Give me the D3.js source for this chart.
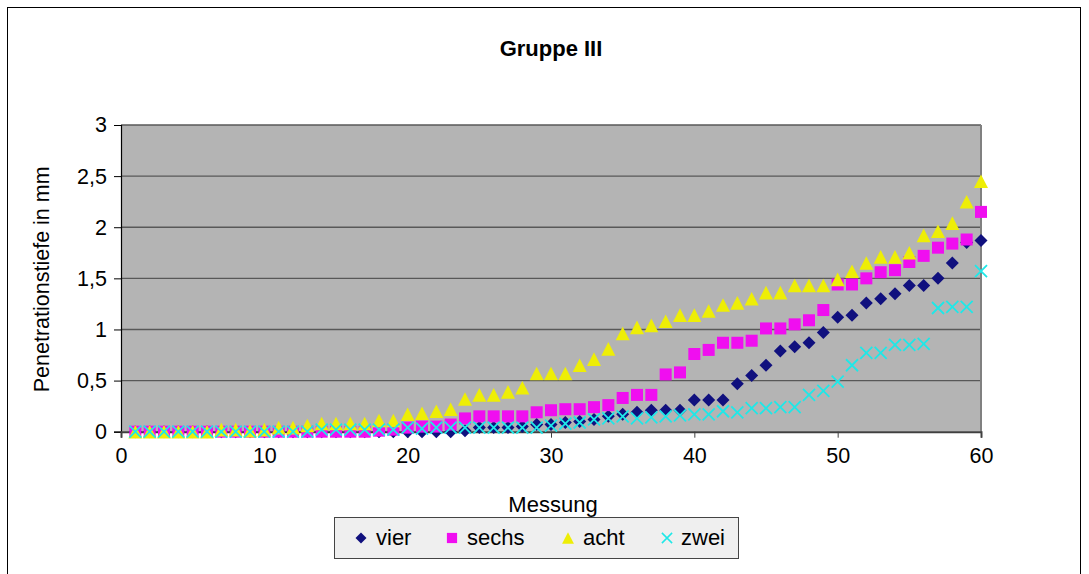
<!DOCTYPE html>
<html>
<head>
<meta charset="utf-8">
<script src="https://cdn.jsdelivr.net/npm/d3@7/dist/d3.min.js"></script>
<style>
  html, body { margin: 0; padding: 0; background: #ffffff; }
  svg { display: block; }
  text { font-family: Arial, "Liberation Sans", sans-serif; fill: #000; }
</style>
</head>
<body>
<svg id="chart" width="1089" height="574"></svg>
<script>
// Measurements 1..60, penetration depth in mm per series
const messung = d3.range(1, 61);

const vier = [
  0, 0, 0, 0, 0, 0, 0, 0, 0, 0,
  0, 0, 0, 0, 0, 0, 0, 0, 0, 0,
  0, 0, 0, 0.01, 0.04, 0.04, 0.04, 0.05, 0.07, 0.07,
  0.09, 0.10, 0.12, 0.15, 0.17, 0.19, 0.21, 0.21, 0.21, 0.31,
  0.31, 0.31, 0.47, 0.55, 0.65, 0.79, 0.83, 0.87, 0.97, 1.12,
  1.14, 1.26, 1.30, 1.35, 1.43, 1.43, 1.50, 1.65, 1.85, 1.87
];
const sechs = [
  0, 0, 0, 0, 0, 0, 0, 0, 0, 0,
  0, 0, 0, 0, 0, 0, 0, 0.01, 0.02, 0.04,
  0.05, 0.05, 0.07, 0.13, 0.15, 0.15, 0.15, 0.15, 0.19, 0.21,
  0.22, 0.22, 0.24, 0.26, 0.33, 0.36, 0.36, 0.56, 0.58, 0.76,
  0.80, 0.87, 0.87, 0.89, 1.01, 1.01, 1.05, 1.09, 1.19, 1.44,
  1.44, 1.50, 1.56, 1.58, 1.66, 1.72, 1.80, 1.84, 1.88, 2.15
];
const acht = [
  0, 0, 0, 0, 0, 0, 0.02, 0.02, 0.01, 0.02,
  0.04, 0.04, 0.06, 0.08, 0.08, 0.08, 0.08, 0.11, 0.11, 0.17,
  0.18, 0.20, 0.22, 0.32, 0.36, 0.36, 0.39, 0.43, 0.57, 0.57,
  0.57, 0.65, 0.71, 0.81, 0.96, 1.02, 1.04, 1.08, 1.14, 1.14,
  1.18, 1.24, 1.26, 1.30, 1.36, 1.36, 1.43, 1.43, 1.43, 1.49,
  1.57, 1.65, 1.71, 1.71, 1.75, 1.92, 1.96, 2.04, 2.25, 2.45
];
const zwei = [
  0, 0, 0, 0, 0, 0, 0, 0, 0, 0,
  0, 0, 0, 0.02, 0.02, 0.02, 0.02, 0.02, 0.02, 0.04,
  0.03, 0.04, 0.04, 0.04, 0.04, 0.04, 0.04, 0.04, 0.04, 0.06,
  0.08, 0.09, 0.12, 0.13, 0.15, 0.13, 0.14, 0.15, 0.16, 0.17,
  0.17, 0.20, 0.19, 0.23, 0.23, 0.24, 0.24, 0.36, 0.40, 0.49,
  0.65, 0.77, 0.77, 0.85, 0.85, 0.86, 1.21, 1.22, 1.22, 1.57
];

const seriesNames = ["vier", "sechs", "acht", "zwei"];
const seriesValues = [vier, sechs, acht, zwei];
const seriesColors = ["#10107e", "#f00ef0", "#eeee06", "#1ee8e8"];
const seriesShapes = ["diamond", "square", "triangle", "cross"];

const xTickValues = [0, 10, 20, 30, 40, 50, 60];
const yTickValues = [0, 0.5, 1, 1.5, 2, 2.5, 3];
const yTickLabels = ["0", "0,5", "1", "1,5", "2", "2,5", "3"];

const titleText = "Gruppe III";
const xTitle = "Messung";
const yTitle = "Penetrationstiefe in mm";

// ---- layout ----
const plot = { left: 121, right: 981, top: 125, bottom: 431.7 };

const svg = d3.select("#chart");

// outer chart frame
svg.append("rect")
  .attr("x", 7.5).attr("y", 7.5)
  .attr("width", 1073).attr("height", 600)
  .attr("fill", "#ffffff")
  .attr("stroke", "#000").attr("stroke-width", 1);

const x = d3.scaleLinear().domain([0, 60]).range([plot.left, plot.right]);
const y = d3.scaleLinear().domain([0, 3]).range([plot.bottom, plot.top]);

// plot area background
svg.append("rect")
  .attr("x", plot.left).attr("y", plot.top)
  .attr("width", plot.right - plot.left)
  .attr("height", plot.bottom - plot.top)
  .attr("fill", "#b4b4b4");

// horizontal gridlines
svg.append("g")
  .selectAll("line")
  .data(yTickValues.filter(v => v > 0))
  .join("line")
  .attr("x1", plot.left).attr("x2", plot.right)
  .attr("y1", d => y(d)).attr("y2", d => y(d))
  .attr("stroke", "#585858").attr("stroke-width", 1.4);

// right border of plot area
svg.append("line")
  .attr("x1", plot.right).attr("x2", plot.right)
  .attr("y1", plot.top).attr("y2", plot.bottom)
  .attr("stroke", "#808080").attr("stroke-width", 2);

// axes
const yAxis = d3.axisLeft(y)
  .tickValues(yTickValues)
  .tickFormat((d, i) => yTickLabels[i])
  .tickSize(7).tickPadding(7);
const gy = svg.append("g")
  .attr("transform", `translate(${plot.left},0)`)
  .call(yAxis);
gy.select(".domain").attr("stroke", "#000").attr("stroke-width", 1.2);
gy.selectAll(".tick line").attr("stroke", "#000");
gy.selectAll(".tick text")
  .attr("font-size", 21.5)
  .attr("font-family", "Arial, 'Liberation Sans', sans-serif")
  .attr("fill", "#000");

const xAxis = d3.axisBottom(x)
  .tickValues(xTickValues)
  .tickFormat(d3.format("d"))
  .tickSize(6).tickPadding(10);
const gx = svg.append("g")
  .attr("transform", `translate(0,${plot.bottom})`)
  .call(xAxis);
gx.select(".domain").attr("stroke", "#404040").attr("stroke-width", 2);
gx.selectAll(".tick line").attr("stroke", "#404040");
gx.selectAll(".tick text")
  .attr("font-size", 21.5)
  .attr("font-family", "Arial, 'Liberation Sans', sans-serif")
  .attr("fill", "#000");

// marker shapes centred on their bounding box
function markerPath(shape) {
  switch (shape) {
    case "diamond": return "M0,-6.5L6.5,0L0,6.5L-6.5,0Z";
    case "square": return "M-6,-6H6V6H-6Z";
    case "triangle": return "M0,-6.8L7,6.8H-7Z";
    case "cross": return "M-6,-6L6,6M6,-6L-6,6";
  }
}
function styleMarker(sel, shape, color) {
  if (shape === "cross") {
    sel.attr("fill", "none").attr("stroke", color).attr("stroke-width", 1.8);
  } else {
    sel.attr("fill", color).attr("stroke", "none");
  }
}

// data markers, drawn in series order
seriesValues.forEach((vals, si) => {
  const shape = seriesShapes[si];
  const g = svg.append("g").attr("class", "series-" + seriesNames[si]);
  g.selectAll("path")
    .data(vals.map((v, i) => ({ m: messung[i], v })))
    .join("path")
    .attr("d", markerPath(shape))
    .attr("transform", d => `translate(${x(d.m)},${y(d.v)})`)
    .call(styleMarker, shape, seriesColors[si]);
});

// titles
svg.append("text")
  .attr("x", 551).attr("y", 56)
  .attr("text-anchor", "middle")
  .attr("font-size", 22).attr("font-weight", "bold")
  .text(titleText);

svg.append("text")
  .attr("x", 553).attr("y", 512)
  .attr("text-anchor", "middle")
  .attr("font-size", 22)
  .text(xTitle);

svg.append("text")
  .attr("transform", `translate(49,${(plot.top + plot.bottom) / 2 + 1}) rotate(-90)`)
  .attr("text-anchor", "middle")
  .attr("font-size", 21.5)
  .text(yTitle);

// legend
const legend = svg.append("g");
legend.append("rect")
  .attr("x", 334.5).attr("y", 517.5)
  .attr("width", 404).attr("height", 41)
  .attr("fill", "#efefef")
  .attr("stroke", "#444").attr("stroke-width", 1);

const legendMarkerX = [361, 452, 568, 667];
const legendTextX = [376, 467, 583, 681];
seriesNames.forEach((name, si) => {
  const shape = seriesShapes[si];
  const p = legend.append("path")
    .attr("d", markerPath(shape))
    .attr("transform", `translate(${legendMarkerX[si]},538) scale(0.85)`);
  styleMarker(p, shape, seriesColors[si]);
  legend.append("text")
    .attr("x", legendTextX[si]).attr("y", 545)
    .attr("font-size", 22)
    .text(name);
});
</script>
</body>
</html>
